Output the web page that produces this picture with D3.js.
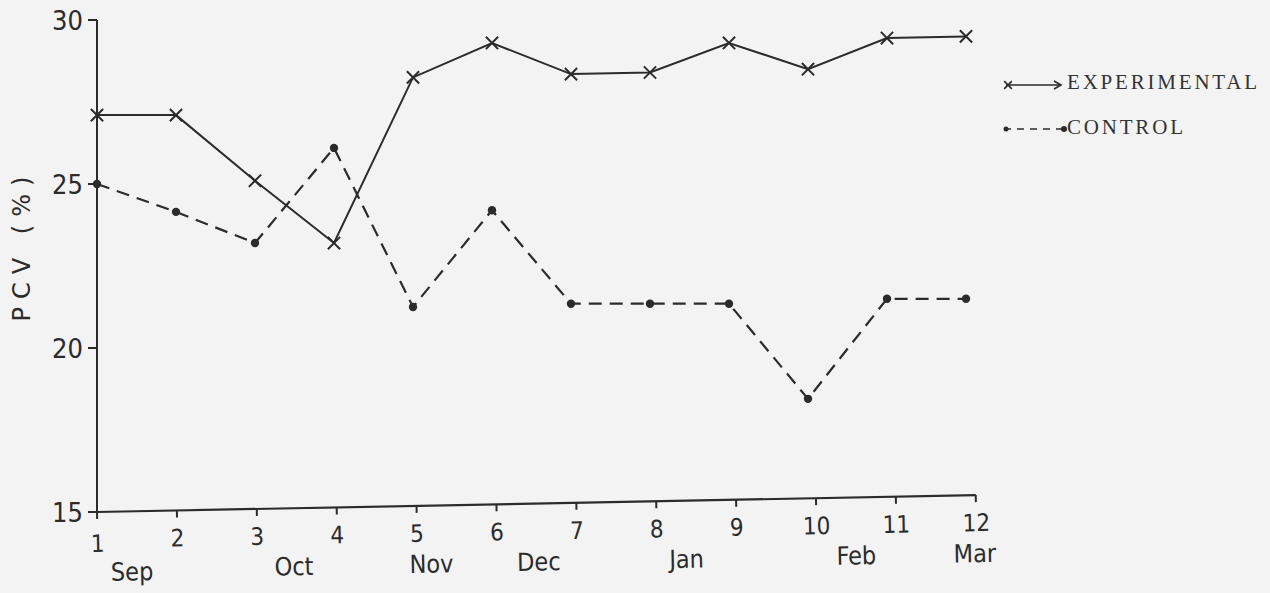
<!DOCTYPE html>
<html>
<head>
<meta charset="utf-8">
<script src="https://cdn.jsdelivr.net/npm/d3@7"></script>
<style>
	body { margin: 0; background: #f3f3f3; }
	svg { display: block; }
</style>
</head>
<body>
<div id="chart"></div>
<script>
// sampling numbers 1..12
var samples = [1, 2, 3, 4, 5, 6, 7, 8, 9, 10, 11, 12];
var experimental = [27.1, 27.1, 25.1, 23.2, 28.25, 29.3, 28.35, 28.4, 29.3, 28.5, 29.45, 29.5];
var control = [25.0, 24.15, 23.2, 26.1, 21.25, 24.2, 21.35, 21.35, 21.35, 18.45, 21.5, 21.5];
var yTicks = [15, 20, 25, 30];
var months = ["Sep", "Oct", "Nov", "Dec", "Jan", "Feb", "Mar"];
var monthAt = [1.43, 3.48, 5.22, 6.58, 8.45, 10.6, 12.1];

var width = 1270, height = 593;

var svg = d3.select("#chart")
	.append("svg")
	.attr("width", width)
	.attr("height", height);

var x = d3.scaleLinear()
	.domain([1, 12])
	.range([97, 966]);

var y = d3.scaleLinear()
	.domain([15, 30])
	.range([512, 20]);

var ink = "#2b2b2b";

// y axis
svg.append("line")
	.attr("x1", x(1)).attr("x2", x(1))
	.attr("y1", y(30)).attr("y2", y(15))
	.attr("stroke", ink).attr("stroke-width", 2);

svg.selectAll(".ytick")
	.data(yTicks)
	.enter().append("line")
	.attr("class", "ytick")
	.attr("x1", x(1) - 9).attr("x2", x(1))
	.attr("y1", function(d){ return y(d); })
	.attr("y2", function(d){ return y(d); })
	.attr("stroke", ink).attr("stroke-width", 2);

svg.selectAll(".ylab")
	.data(yTicks)
	.enter().append("text")
	.attr("class", "ylab")
	.attr("x", x(1) - 14)
	.attr("y", function(d){ return y(d) + 10; })
	.attr("text-anchor", "end")
	.style("font-family", "DejaVu Sans Condensed, DejaVu Sans")
	.style("font-size", "27px")
	.attr("fill", ink)
	.text(function(d){ return d; });

svg.append("text")
	.attr("transform", "translate(30,245) rotate(-90)")
	.attr("text-anchor", "middle")
	.style("font-family", "DejaVu Sans")
	.style("font-size", "24px")
	.style("letter-spacing", "8px")
	.attr("fill", ink)
	.text("PCV (%)");

// x axis, slightly tilted like the scan
var xg = svg.append("g")
	.attr("transform", "rotate(-1.1," + x(1) + "," + y(15) + ")");

xg.append("line")
	.attr("x1", x(1)).attr("x2", x(12) + 10)
	.attr("y1", y(15)).attr("y2", y(15))
	.attr("stroke", ink).attr("stroke-width", 2.2);

xg.selectAll(".xtick")
	.data(samples)
	.enter().append("line")
	.attr("class", "xtick")
	.attr("x1", function(d){ return x(d) + (d - 1) * 0.9; })
	.attr("x2", function(d){ return x(d) + (d - 1) * 0.9; })
	.attr("y1", y(15)).attr("y2", y(15) + 7)
	.attr("stroke", ink).attr("stroke-width", 2);

xg.selectAll(".xlab")
	.data(samples)
	.enter().append("text")
	.attr("class", "xlab")
	.attr("x", function(d){ return x(d) + (d - 1) * 0.9; })
	.attr("y", function(d){ return y(15) + (d == 1 ? 40 : 36); })
	.attr("text-anchor", "middle")
	.style("font-family", "DejaVu Sans Condensed, DejaVu Sans")
	.style("font-size", "24px")
	.attr("fill", ink)
	.text(function(d){ return d; });

xg.selectAll(".month")
	.data(months)
	.enter().append("text")
	.attr("class", "month")
	.attr("x", function(d, i){ return x(monthAt[i]); })
	.attr("y", function(d, i){ return y(15) + (i == 0 ? 69 : 67); })
	.attr("text-anchor", "middle")
	.style("font-family", "DejaVu Sans Condensed, DejaVu Sans")
	.style("font-size", "25px")
	.attr("fill", ink)
	.text(function(d){ return d; });

// series
var line = d3.line()
	.x(function(d, i){ return x(samples[i]); })
	.y(function(d){ return y(d); });

svg.append("path")
	.datum(control)
	.attr("d", line)
	.attr("fill", "none")
	.attr("stroke", ink)
	.attr("stroke-width", 2.2)
	.attr("stroke-dasharray", "13,8");

svg.selectAll(".cdot")
	.data(control)
	.enter().append("circle")
	.attr("class", "cdot")
	.attr("cx", function(d, i){ return x(samples[i]); })
	.attr("cy", function(d){ return y(d); })
	.attr("r", 4.2)
	.attr("fill", ink);

svg.append("path")
	.datum(experimental)
	.attr("d", line)
	.attr("fill", "none")
	.attr("stroke", ink)
	.attr("stroke-width", 2);

var cross = d3.symbol().type(d3.symbolX).size(100);

svg.selectAll(".ecross")
	.data(experimental)
	.enter().append("path")
	.attr("class", "ecross")
	.attr("d", cross)
	.attr("transform", function(d, i){ return "translate(" + x(samples[i]) + "," + y(d) + ")"; })
	.attr("fill", "none")
	.attr("stroke", ink)
	.attr("stroke-width", 2);

// legend
var leg = svg.append("g");

leg.append("line")
	.attr("x1", 1006).attr("x2", 1060)
	.attr("y1", 85).attr("y2", 85)
	.attr("stroke", ink).attr("stroke-width", 1.6);
leg.append("path")
	.attr("d", d3.symbol().type(d3.symbolX).size(40))
	.attr("transform", "translate(1008,85)")
	.attr("fill", "none").attr("stroke", ink).attr("stroke-width", 1.6);
leg.append("path")
	.attr("d", "M1054,81L1061,85L1054,89")
	.attr("fill", "none").attr("stroke", ink).attr("stroke-width", 1.6);
leg.append("text")
	.attr("x", 1067).attr("y", 89)
	.style("font-family", "Liberation Serif")
	.style("font-size", "21px")
	.style("letter-spacing", "2.8px")
	.attr("fill", "#333")
	.text("EXPERIMENTAL");

leg.append("line")
	.attr("x1", 1004).attr("x2", 1064)
	.attr("y1", 129).attr("y2", 129)
	.attr("stroke", ink).attr("stroke-width", 1.6)
	.attr("stroke-dasharray", "7,6");
leg.append("circle").attr("cx", 1006).attr("cy", 129).attr("r", 2.5).attr("fill", ink);
leg.append("circle").attr("cx", 1064).attr("cy", 129).attr("r", 3).attr("fill", ink);
leg.append("text")
	.attr("x", 1067).attr("y", 134)
	.style("font-family", "Liberation Serif")
	.style("font-size", "21px")
	.style("letter-spacing", "2.8px")
	.attr("fill", "#333")
	.text("CONTROL");
</script>
</body>
</html>
